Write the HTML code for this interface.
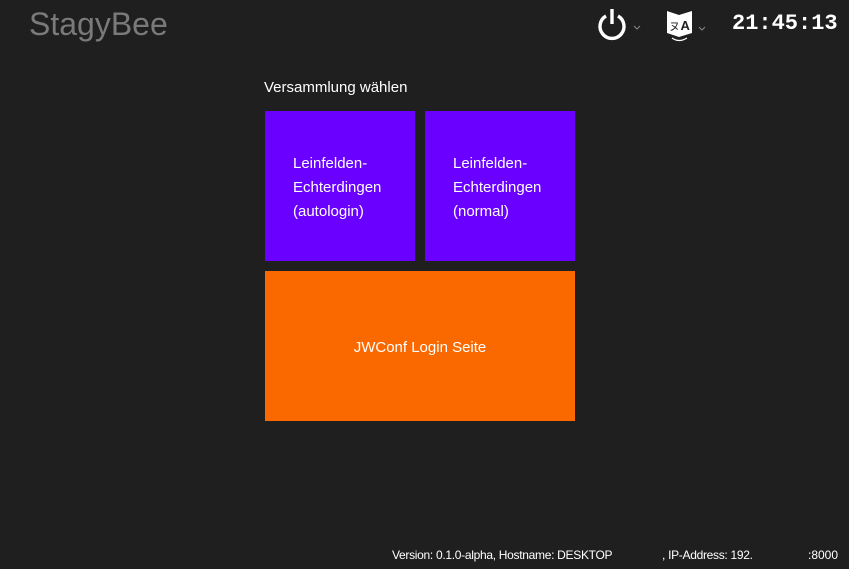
<!DOCTYPE html>
<html><head><meta charset="utf-8"><style>
html,body{margin:0;padding:0;width:849px;height:569px;background:#1f1f1f;overflow:hidden;font-family:"Liberation Sans",sans-serif;color:#fff;position:relative}
.a{position:absolute}
.tile{position:absolute;font-size:15px;line-height:24px;box-sizing:border-box}
</style></head><body>
<div class="a" style="left:29px;top:6px;font-size:32px;color:#7a7a7a">StagyBee</div>
<svg class="a" style="left:596px;top:6px" width="54" height="36" viewBox="0 0 54 36">
<path d="M10 10 A12 12 0 1 0 22 10" fill="none" stroke="#fff" stroke-width="3.4"/>
<line x1="16" y1="3" x2="16" y2="18" stroke="#fff" stroke-width="3.4"/>
<path d="M38 20 l3 3 l3 -3" fill="none" stroke="#888" stroke-width="1"/>
</svg>
<svg class="a" style="left:664px;top:6px" width="46" height="36" viewBox="0 0 46 36">
<path d="M3 5 L15 9 L15 31 L3 27 Z" fill="#fff"/>
<path d="M15 9 L28 5 L28 27 L15 31 Z" fill="#fff"/>
<text x="5" y="24" font-size="11" fill="#1f1f1f" font-family="Liberation Sans">ヌ</text>
<text x="16.5" y="24" font-size="13" font-weight="bold" fill="#1f1f1f" font-family="Liberation Sans">A</text>
<path d="M8 32 Q15 37 23 32" fill="none" stroke="#fff" stroke-width="1.2"/>
<path d="M35 21 l3 3 l3 -3" fill="none" stroke="#888" stroke-width="1"/>
</svg>
<div class="a" style="left:732px;top:11px;font-family:'Liberation Mono',monospace;font-size:22px;font-weight:bold;color:#fff">21:45:13</div>
<div class="a" style="left:264px;top:79px;font-size:15px">Versammlung wählen</div>
<div class="tile" style="left:265px;top:111px;width:150px;height:150px;background:#6a00ff;padding:41px 0 0 28px">Leinfelden-<br>Echterdingen<br>(autologin)</div>
<div class="tile" style="left:425px;top:111px;width:150px;height:150px;background:#6a00ff;padding:41px 0 0 28px">Leinfelden-<br>Echterdingen<br>(normal)</div>
<div class="tile" style="left:265px;top:271px;width:310px;height:150px;background:#fa6800;text-align:center;padding-top:65px">JWConf Login Seite</div>
<div class="a" style="left:392px;top:548px;font-size:12px;letter-spacing:-0.3px;white-space:pre">Version: 0.1.0-alpha, Hostname: DESKTOP</div>
<div class="a" style="left:662px;top:548px;font-size:12px;letter-spacing:-0.3px">, IP-Address: 192.</div>
<div class="a" style="left:808px;top:548px;font-size:12px">:8000</div>
</body></html>
